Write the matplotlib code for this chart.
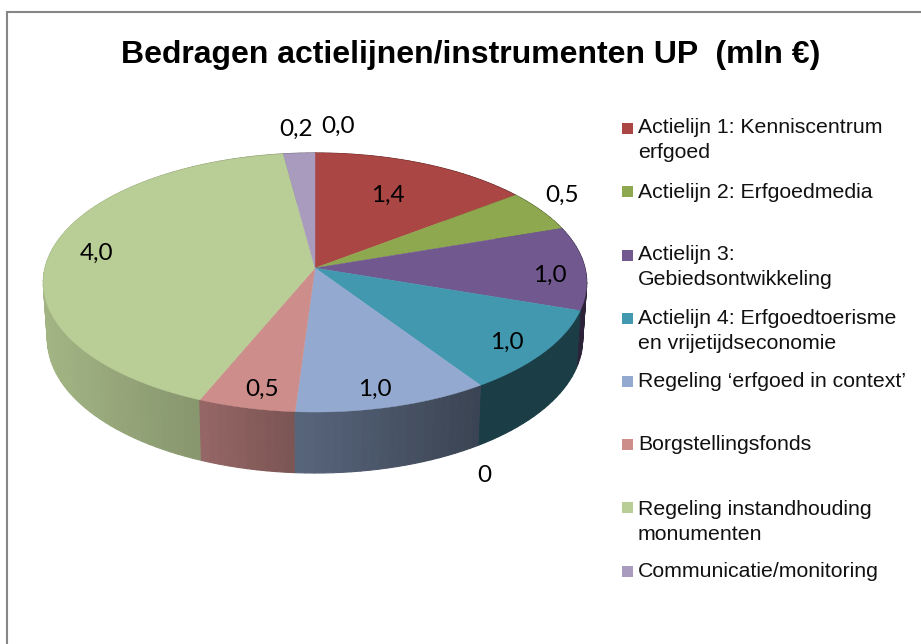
import matplotlib
matplotlib.use('Agg')
import matplotlib.pyplot as plt
import numpy as np
from matplotlib.patches import Polygon

categories = ['Actielijn 1: Kenniscentrum\nerfgoed', 'Actielijn 2: Erfgoedmedia',
              'Actielijn 3:\nGebiedsontwikkeling', 'Actielijn 4: Erfgoedtoerisme\nen vrijetijdseconomie',
              'Regeling \u2018erfgoed in context\u2019', 'Borgstellingsfonds',
              'Regeling instandhouding\nmonumenten', 'Communicatie/monitoring']
values = [1.4, 0.5, 1.0, 1.0, 1.0, 0.5, 4.0, 0.2]
colors = ['#AA4644', '#8DA84E', '#71588F', '#4198AF', '#93A9CF', '#CD8D8B', '#B9CD96', '#A99BBD']
data_labels = ['0,2', '0,0', '1,4', '0,5', '1,0', '1,0', '1,0', '0,5', '4,0', '0']

label_xy = [(296, 129), (338, 126), (388, 195), (562, 195), (550, 275),
            (507, 342), (375, 389), (262, 389), (97, 253), (484, 475)]
legend_y = [127, 192, 254, 318, 381, 444, 509, 571]  # first line centre of each entry
legend_sq = [128, 191, 255, 318, 381, 444, 507, 571]

cx, cy, rx, ry, k = 315, 268, 270, 127.9, 0.112


def project(theta):
    # clockwise from the top, with a bit of perspective
    u, v = np.sin(theta), np.cos(theta)
    w = 1 + k * v
    return cx + rx * u / w, cy - ry * v / w, v


def side(theta):
    x, y, v = project(theta)
    return cx + 0.985 * (x - cx), y + 56 - 5 * v


def shade(color, x):
    f = np.interp(x, [45, 200, 295, 480], [0.88, 0.73, 0.60, 0.40])
    return tuple(c * f for c in matplotlib.colors.to_rgb(color))


fig = plt.figure(figsize=(9.21, 6.44), dpi=100)
ax = fig.add_axes([0, 0, 1, 1])
ax.set_xlim(0, 921)
ax.set_ylim(644, 0)
ax.axis('off')

edges = np.cumsum([0] + values) / sum(values) * 2 * np.pi

# side wall, back to front
strips = []
for i, col in enumerate(colors):
    n = max(int((edges[i + 1] - edges[i]) / 0.03), 2)
    t = np.linspace(edges[i], edges[i + 1], n + 1)
    for a, b in zip(t[:-1], t[1:]):
        strips.append((a, b, col))
strips.sort(key=lambda s: -np.cos((s[0] + s[1]) / 2))
for a, b, col in strips:
    xa, ya, _ = project(a)
    xb, yb, _ = project(b)
    xa2, ya2 = side(a)
    xb2, yb2 = side(b)
    c = shade(col, (xa + xb) / 2)
    ax.add_patch(Polygon([(xa, ya), (xb, yb), (xb2, yb2), (xa2, ya2)], closed=True,
                         facecolor=c, edgecolor=c, linewidth=0.8, zorder=2))

# top surface
for i, col in enumerate(colors):
    t = np.linspace(edges[i], edges[i + 1], 150)
    x, y, _ = project(t)
    pts = [(cx, cy)] + list(zip(x, y))
    ax.add_patch(Polygon(pts, closed=True, facecolor=col, edgecolor=col, linewidth=0.3, zorder=3))

for txt, (x, y) in zip(data_labels, label_xy):
    ax.text(x, y, txt, fontsize=17.5, family='Lato', ha='center', va='center', color='black', zorder=5)

ax.text(471, 55, 'Bedragen actielijnen/instrumenten UP  (mln \u20ac)', fontsize=23,
        fontweight='bold', family='Liberation Sans', ha='center', va='center')

for cat, col, ty, sy in zip(categories, colors, legend_y, legend_sq):
    ax.add_patch(Polygon([(622, sy - 5.5), (633, sy - 5.5), (633, sy + 5.5), (622, sy + 5.5)],
                         closed=True, facecolor=col, edgecolor='none'))
    ax.text(638, ty - 9, cat, fontsize=15.3, family='Liberation Sans', ha='left', va='top',
            linespacing=1.38, color='#111111')

# chart frame
ax.plot([7, 7, 921], [644, 12, 12], color='#868686', linewidth=1.5, solid_joinstyle='miter')

fig.savefig('out.png', dpi=100)
